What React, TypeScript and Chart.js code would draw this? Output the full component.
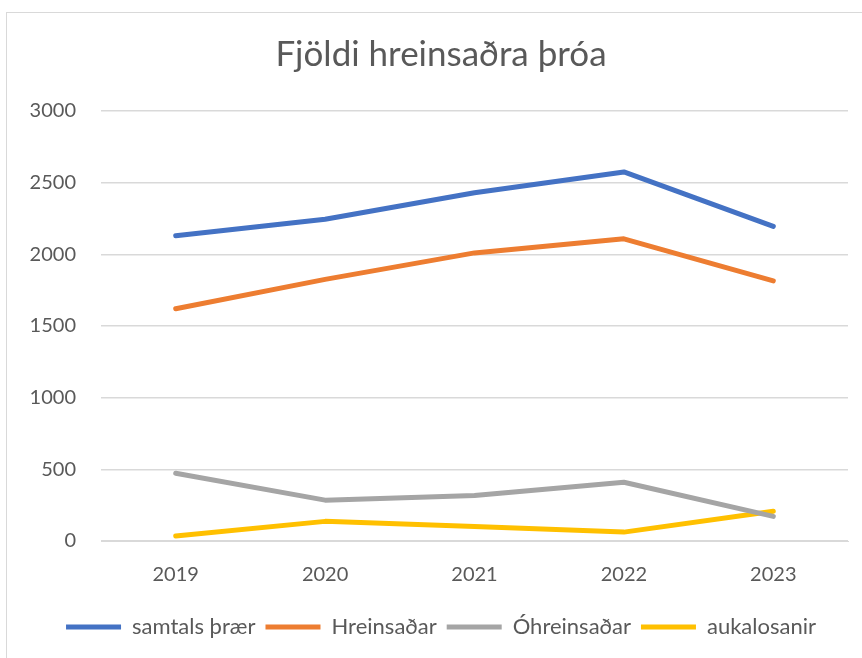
import React, { useEffect, useRef } from "react";
import { Chart, registerables } from "chart.js";

Chart.register(...registerables);

const title = "Fjöldi hreinsaðra þróa";
const years = ["2019", "2020", "2021", "2022", "2023"];
const seriesNames = ["samtals þrær", "Hreinsaðar", "Óhreinsaðar", "aukalosanir"];
const samtals = [2130, 2245, 2430, 2575, 2195];
const hreinsadar = [1620, 1825, 2010, 2108, 1815];
const ohreinsadar = [473, 285, 318, 410, 172];
const aukalosanir = [35, 137, 102, 62, 208];
const colors = ["#4472C4", "#ED7D31", "#A5A5A5", "#FFC000"];

const FONT = "Lato";

export default function App() {
  const ref = useRef<HTMLCanvasElement | null>(null);
  useEffect(() => {
    const values = [samtals, hreinsadar, ohreinsadar, aukalosanir];
    const chart = new Chart(ref.current!, {
      type: "line",
      data: {
        labels: years,
        datasets: seriesNames.map((name, i) => ({
          label: name,
          data: values[i],
          borderColor: colors[i],
          backgroundColor: colors[i],
          borderWidth: 5,
          pointRadius: 0,
          pointHoverRadius: 0,
          borderCapStyle: "round" as const,
          borderJoinStyle: "round" as const,
          tension: 0,
        })),
      },
      options: {
        animation: false,
        responsive: false,
        layout: { padding: { left: 0, right: 0, top: 0, bottom: 15 } },
        plugins: {
          title: {
            display: true,
            text: title,
            color: "#595959",
            font: { family: FONT, size: 35, weight: "normal" },
            padding: { top: 21, bottom: 35 },
          },
          legend: {
            position: "bottom",
            labels: {
              color: "#595959",
              font: { family: FONT, size: 22 },
              boxWidth: 55,
              boxHeight: 5,
              padding: 10,
              generateLabels: (c) =>
                c.data.datasets.map((d, i) => ({
                  text: d.label as string,
                  fillStyle: colors[i],
                  strokeStyle: colors[i],
                  lineWidth: 0,
                  hidden: false,
                  datasetIndex: i,
                  fontColor: "#595959",
                })),
            },
          },
          tooltip: { enabled: false },
        },
        scales: {
          x: {
            offset: true,
            grid: { display: false, drawTicks: false },
            border: { display: true, color: "#D9D9D9", width: 1 },
            ticks: { color: "#595959", font: { family: FONT, size: 20 }, padding: 22 },
            afterFit: (s: any) => {
              s.height = 65;
            },
          },
          y: {
            min: 0,
            max: 3000,
            ticks: {
              stepSize: 500,
              color: "#595959",
              font: { family: FONT, size: 20 },
              padding: 25,
              callback: (v: any) => String(v),
            },
            grid: { color: "#D9D9D9", lineWidth: 1.5, drawTicks: false },
            border: { display: false },
            afterFit: (s: any) => {
              s.width = 94;
            },
          },
          spacer: {
            type: "linear",
            position: "right",
            display: true,
            grid: { display: false, drawTicks: false },
            border: { display: false },
            ticks: { display: false },
            afterFit: (s: any) => {
              s.width = 27;
            },
          },
        },
      },
    });
    return () => chart.destroy();
  }, []);

  return (
    <div style={{ position: "fixed", left: 0, top: 0, width: 862, height: 658, background: "#fff", overflow: "hidden" }}>
      <div
        style={{
          position: "absolute",
          left: 6,
          top: 12,
          width: 868,
          height: 650,
          border: "1px solid #D9D9D9",
          background: "#fff",
        }}
      >
        <canvas ref={ref} width={868} height={650} style={{ display: "block", width: 868, height: 650 }} />
      </div>
    </div>
  );
}
